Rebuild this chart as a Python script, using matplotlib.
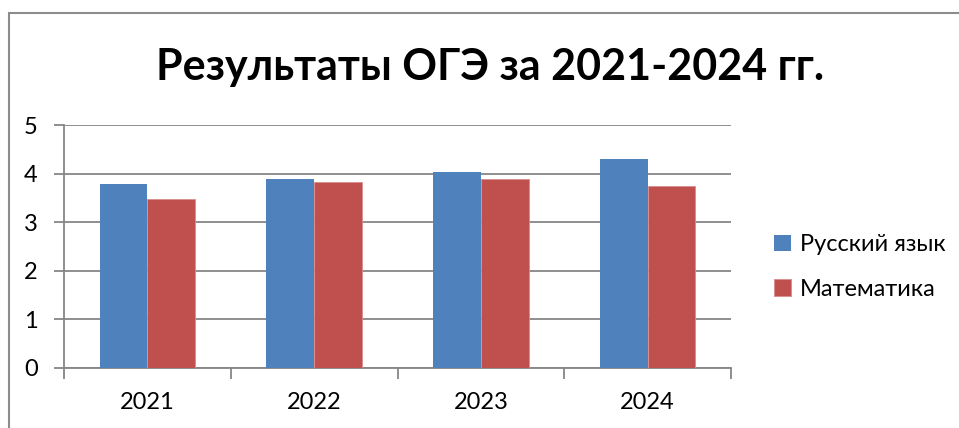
import matplotlib
matplotlib.use("Agg")
import matplotlib.pyplot as plt
import numpy as np
from matplotlib.patches import Rectangle

years = ["2021", "2022", "2023", "2024"]
russian = [3.78, 3.88, 4.03, 4.31]
math = [3.48, 3.83, 3.88, 3.75]
series_names = ["Русский язык", "Математика"]
yticks = [0, 1, 2, 3, 4, 5]

plt.rcParams['font.family'] = ['Lato', 'DejaVu Sans']

W, H = 959, 428
fig = plt.figure(figsize=(W/100, H/100), dpi=100)

# outer frame
fig.patches.append(Rectangle((9/W, -0.1), 1.2, (H - 13)/H + 0.1, transform=fig.transFigure,
                             fill=False, edgecolor="#8c8c8c", linewidth=1.5))

ax = fig.add_axes([64/W, 1 - 368/H, (731 - 64)/W, (368 - 125)/H])
x = np.arange(len(years))
bw = 0.287
ax.bar(x - bw/2, russian, bw, color="#4F81BD", label=series_names[0], zorder=3)
ax.bar(x + bw/2, math, bw, color="#C0504D", label=series_names[1], zorder=3,
       edgecolor="#d98c8a", linewidth=0.6)

ax.set_xlim(-0.5, len(years) - 0.5)
ax.set_ylim(0, 5)
ax.set_yticks(yticks)
ax.set_yticklabels([str(v) for v in yticks])
ax.set_xticks(x)
ax.set_xticklabels(years)
ax.set_xticks(np.arange(-0.5, len(years)), minor=True)
ax.tick_params(axis="x", which="major", length=0, pad=17, labelsize=17)
ax.tick_params(axis="x", which="minor", length=8, width=1.3, color="#868686", direction="out")
ax.tick_params(axis="y", length=7, width=1.3, color="#868686", direction="out", pad=12, labelsize=17)

ax.grid(axis="y", color="#868686", linewidth=1.3, zorder=0)
for s in ["top", "right"]:
    ax.spines[s].set_visible(False)
for s in ["left", "bottom"]:
    ax.spines[s].set_color("#868686")
    ax.spines[s].set_linewidth(1.3)

fig.text(490/W, 1 - 67/H, "Результаты ОГЭ за 2021-2024 гг.", ha="center", va="center",
         fontsize=31, fontweight="bold")

leg = fig.legend(loc="center left", bbox_to_anchor=(753/W, 1 - 267/H), frameon=False,
                 fontsize=17, handlelength=0.7, handleheight=0.7, handletextpad=0.4,
                 labelspacing=1.0)

fig.savefig("out.png", dpi=100)
